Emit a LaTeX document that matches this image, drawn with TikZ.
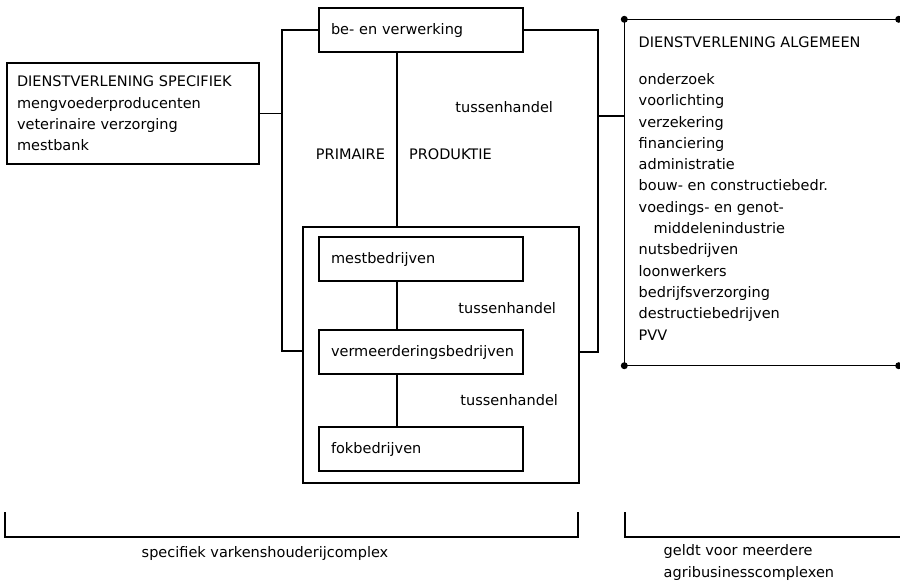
\documentclass[tikz,border=0pt]{standalone}
\usepackage{fontspec}
\setmainfont{DejaVu Sans}
\usetikzlibrary{positioning,calc}

\begin{document}
\begin{tikzpicture}[x=1pt,y=-1pt,line width=1.4pt,font=\fontsize{14.5}{21.3}\selectfont,
    kader/.style={draw,rectangle,minimum width=204pt,minimum height=44pt,text width=180pt,inner xsep=12pt,align=left},
    tekst/.style={inner sep=0pt,align=left}]
    \useasboundingbox (0,0) rectangle (900,587);

    \node[kader] (verwerking) at (421,30) {be- en verwerking};
    \node[draw,rectangle,minimum width=252pt,minimum height=101pt,text width=232pt,inner xsep=10pt,align=left] (specifiek) at (133,113.5)
        {DIENSTVERLENING SPECIFIEK\\mengvoederproducenten\\veterinaire verzorging\\mestbank};
    \node[draw,rectangle,minimum width=276pt,minimum height=256pt] (primair) at (441,355) {};
    \node[kader] (mest) at (421,259) {mestbedrijven};
    \node[kader] (vermeerdering) at (421,352) {vermeerderingsbedrijven};
    \node[kader] (fok) at (421,449) {fokbedrijven};

    % algemene dienstverlening, open aan de rechterkant
    \node[minimum width=273pt,minimum height=345pt,inner sep=0pt] (algemeen) at (761.5,192.5) {};
    \draw (algemeen.north east) -- (algemeen.north west) -- (algemeen.south west) -- (algemeen.south east);
    \foreach \hoek in {north east,north west,south west,south east}
        \fill (algemeen.\hoek) circle (3.5pt);
    \node[tekst,anchor=north west] (diensten) at (638,36) {DIENSTVERLENING ALGEMEEN\\[15.7pt]
        onderzoek\\voorlichting\\verzekering\\financiering\\administratie\\bouw- en constructiebedr.\\
        voedings- en genot-\\\hspace*{15pt}middelenindustrie\\nutsbedrijven\\loonwerkers\\
        bedrijfsverzorging\\destructiebedrijven\\PVV};

    \coordinate (links) at (282,351);
    \coordinate (rechts) at (598,352);
    \coordinate (aansluiting) at (598,116);
    \coordinate (as) at (397,0);
    \draw (verwerking.west) -| (links) -- (links -| primair.west);
    \draw (specifiek.east) -- (specifiek.east -| links);
    \draw (verwerking.east) -| (rechts) -- (rechts -| primair.east);
    \draw (aansluiting) -- (aansluiting -| algemeen.west);
    \draw (verwerking.south -| as) -- (primair.north -| as);
    \draw (mest.south -| as) -- (vermeerdering.north -| as);
    \draw (vermeerdering.south -| as) -- (fok.north -| as);

    \node[anchor=east] (primaire) at (389,154) {PRIMAIRE};
    \node[anchor=west] (produktie) at (405,154) {PRODUKTIE};
    \node[anchor=east] (handel1) at (557,107) {tussenhandel};
    \node[anchor=east] (handel2) at (560,308) {tussenhandel};
    \node[anchor=east] (handel3) at (562,400) {tussenhandel};

    % onderste haken
    \coordinate (haak1) at (5,512);
    \coordinate (haak2) at (578,512);
    \coordinate (haak3) at (625,512);
    \draw (haak1) |- (haak2 |- 0,537) -- (haak2);
    \draw (haak3) |- (900,537);
    \node (complex) at (265,553) {specifiek varkenshouderijcomplex};
    \node[tekst,anchor=north west] (meerdere) at (663,544) {geldt voor meerdere\\agribusinesscomplexen};
\end{tikzpicture}
\end{document}
